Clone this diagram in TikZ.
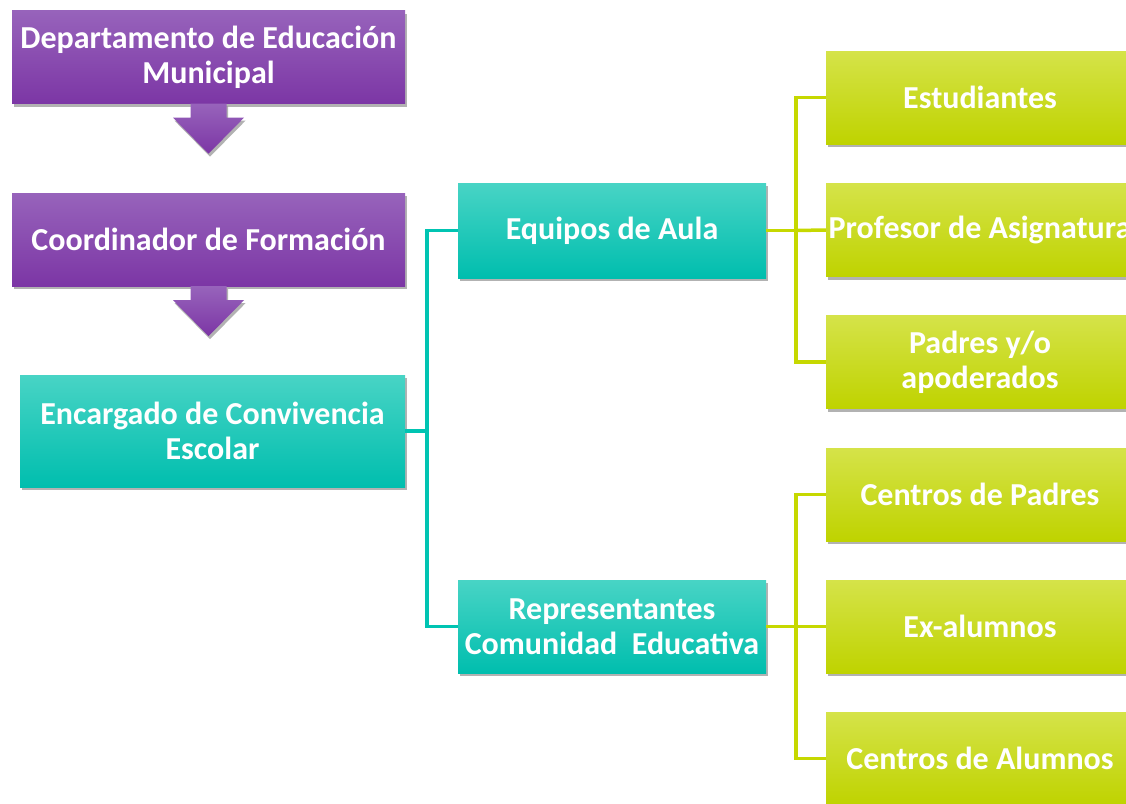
\documentclass[tikz,border=0pt]{standalone}
\usepackage{fontspec}
\setmainfont{Carlito}
\definecolor{purT}{HTML}{9763BB}
\definecolor{purB}{HTML}{7C36A5}
\definecolor{teaT}{HTML}{48D4C5}
\definecolor{teaM}{HTML}{00CDB9}
\definecolor{teaB}{HTML}{00BEAE}
\definecolor{grnT}{HTML}{D5E349}
\definecolor{grnM}{HTML}{CCDF00}
\definecolor{grnB}{HTML}{BFD300}
\definecolor{teaL}{HTML}{00C4B2}
\definecolor{grnL}{HTML}{C6D800}
\usetikzlibrary{calc,shadows}
\tikzset{
  box/.style={inner sep=0pt,minimum height=93,align=center,text=white,
    font=\bfseries\fontsize{32}{35}\selectfont,
    drop shadow={shadow xshift=1.5pt,shadow yshift=-3pt,fill=black,opacity=.3}},
  pbox/.style={box,minimum width=393,top color=purT,bottom color=purB},
  tbox/.style={box,minimum width=308,top color=teaT,middle color=teaM,bottom color=teaB},
  gbox/.style={box,minimum width=308,top color=grnT,middle color=grnM,bottom color=grnB},
  parr/.style={top color=purT,bottom color=purB,
    drop shadow={shadow xshift=1.5pt,shadow yshift=-3pt,fill=black,opacity=.3}},
  tline/.style={draw=teaL,line width=3.5pt},
  gline/.style={draw=grnL,line width=3.5pt},
}

\begin{document}
\begin{tikzpicture}[x=1pt,y=-1pt]
\useasboundingbox (0,0) rectangle (1126,803);
\clip (0,0) rectangle (1126,803);
% left column
\node[pbox] (dep) at (208.5,57) {Departamento de Educación\\Municipal};
\node[pbox] (coo) at (208.5,239.5) {Coordinador de Formación};
\node[tbox,minimum width=385,minimum height=112] (enc) at (212.5,431) {Encargado de Convivencia\\Escolar};
% block arrows
\foreach \n in {dep,coo}
  \shade[parr] ($(\n.south)+(-18,0)$) -- ++(0,14) -- ++(-17.5,0) -- ($(\n.south)+(0,50)$)
    -- ($(\n.south)+(35.5,14)$) -- ($(\n.south)+(18,14)$) -- ($(\n.south)+(18,0)$) -- cycle;
% middle column
\node[tbox,minimum height=95] (equ) at (612,230.5) {Equipos de Aula};
\node[tbox] (rep) at (612,626.5) {Representantes\\Comunidad\ \ Educativa};
% right column
\node[gbox] (est) at (980,97.5) {Estudiantes};
\node[gbox] (pro) at (980,230) {Profesor de Asignatura};
\node[gbox] (pad) at (980,362) {Padres y/o\\apoderados};
\node[gbox] (cpa) at (980,494.5) {Centros de Padres};
\node[gbox] (exa) at (980,626.5) {Ex-alumnos};
\node[gbox] (cal) at (980,758.5) {Centros de Alumnos};
% connectors
\coordinate (tj) at ($(enc.east)+(22,0)$);
\draw[tline] (enc.east) -- (tj) |- (equ.west);
\draw[tline] (tj) |- (rep.west);
\coordinate (gj1) at ($(equ.east)+(30,0)$);
\draw[gline] (equ.east) -- (gj1) |- (est.west);
\draw[gline] (gj1) |- (pad.west);
\draw[gline] (gj1) -- (pro.west);
\coordinate (gj2) at ($(rep.east)+(30,0)$);
\draw[gline] (rep.east) -- (gj2) |- (cpa.west);
\draw[gline] (gj2) |- (cal.west);
\draw[gline] (gj2) -- (exa.west);
\end{tikzpicture}
\end{document}
